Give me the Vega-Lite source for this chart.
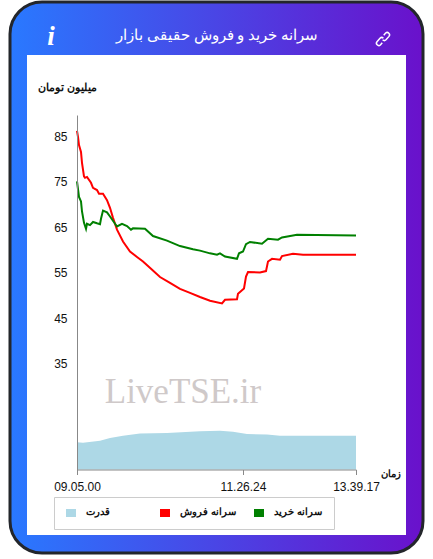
{"$schema":"https://vega.github.io/schema/vega-lite/v6.json","width":413,"height":551,"autosize":{"type":"none"},"padding":{"left":10,"top":2,"right":10,"bottom":6},"background":"white","config":{"view":{"fill":{"gradient":"linear","x1":0,"y1":0,"x2":1,"y2":0,"stops":[{"offset":0,"color":"#2979ff"},{"offset":1,"color":"#6a11cb"}]},"stroke":"#23262b","strokeWidth":3,"cornerRadius":32},"font":"DejaVu Sans"},"data":{"values":[
{"n":0,"series":"سرانه فروش","value":86.2},{"n":1,"series":"سرانه فروش","value":84.9},{"n":2,"series":"سرانه فروش","value":83.1},{"n":4,"series":"سرانه فروش","value":81.6},{"n":5,"series":"سرانه فروش","value":79.2},{"n":7,"series":"سرانه فروش","value":76.2},{"n":8,"series":"سرانه فروش","value":75.9},{"n":10,"series":"سرانه فروش","value":76.1},{"n":14,"series":"سرانه فروش","value":74.8},{"n":16,"series":"سرانه فروش","value":73.7},{"n":20,"series":"سرانه فروش","value":73.2},{"n":22,"series":"سرانه فروش","value":72.4},{"n":26,"series":"سرانه فروش","value":72.4},{"n":30,"series":"سرانه فروش","value":71.0},{"n":33,"series":"سرانه فروش","value":69.3},{"n":36,"series":"سرانه فروش","value":67.1},{"n":40,"series":"سرانه فروش","value":64.5},{"n":46,"series":"سرانه فروش","value":61.9},{"n":53,"series":"سرانه فروش","value":59.7},{"n":60,"series":"سرانه فروش","value":58.5},{"n":66,"series":"سرانه فروش","value":57.5},{"n":74,"series":"سرانه فروش","value":55.9},{"n":83,"series":"سرانه فروش","value":54.1},{"n":93,"series":"سرانه فروش","value":52.8},{"n":103,"series":"سرانه فروش","value":51.5},{"n":113,"series":"سرانه فروش","value":50.6},{"n":123,"series":"سرانه فروش","value":49.7},{"n":133,"series":"سرانه فروش","value":48.9},{"n":145,"series":"سرانه فروش","value":48.3},{"n":148,"series":"سرانه فروش","value":49.1},{"n":160,"series":"سرانه فروش","value":49.2},{"n":161,"series":"سرانه فروش","value":50.4},{"n":167,"series":"سرانه فروش","value":51.6},{"n":169,"series":"سرانه فروش","value":54.2},{"n":171,"series":"سرانه فروش","value":55.2},{"n":183,"series":"سرانه فروش","value":55.1},{"n":189,"series":"سرانه فروش","value":55.4},{"n":191,"series":"سرانه فروش","value":57.5},{"n":195,"series":"سرانه فروش","value":58.1},{"n":203,"series":"سرانه فروش","value":57.9},{"n":205,"series":"سرانه فروش","value":58.7},{"n":216,"series":"سرانه فروش","value":59.2},{"n":226,"series":"سرانه فروش","value":59.0},{"n":279,"series":"سرانه فروش","value":59.0},
{"n":0,"series":"سرانه خرید","value":75.1},{"n":2,"series":"سرانه خرید","value":71.7},{"n":4,"series":"سرانه خرید","value":70.7},{"n":5,"series":"سرانه خرید","value":68.5},{"n":7,"series":"سرانه خرید","value":66.0},{"n":9,"series":"سرانه خرید","value":64.7},{"n":10,"series":"سرانه خرید","value":65.8},{"n":13,"series":"سرانه خرید","value":65.5},{"n":16,"series":"سرانه خرید","value":66.2},{"n":20,"series":"سرانه خرید","value":65.9},{"n":23,"series":"سرانه خرید","value":65.7},{"n":24,"series":"سرانه خرید","value":66.9},{"n":26,"series":"سرانه خرید","value":68.7},{"n":30,"series":"سرانه خرید","value":68.3},{"n":33,"series":"سرانه خرید","value":67.4},{"n":40,"series":"سرانه خرید","value":65.2},{"n":45,"series":"سرانه خرید","value":65.8},{"n":50,"series":"سرانه خرید","value":65.3},{"n":54,"series":"سرانه خرید","value":64.5},{"n":56,"series":"سرانه خرید","value":64.8},{"n":68,"series":"سرانه خرید","value":64.7},{"n":76,"series":"سرانه خرید","value":63.1},{"n":90,"series":"سرانه خرید","value":62.1},{"n":103,"series":"سرانه خرید","value":60.9},{"n":116,"series":"سرانه خرید","value":60.2},{"n":123,"series":"سرانه خرید","value":59.9},{"n":133,"series":"سرانه خرید","value":59.3},{"n":140,"series":"سرانه خرید","value":59.0},{"n":143,"series":"سرانه خرید","value":59.3},{"n":148,"series":"سرانه خرید","value":58.6},{"n":160,"series":"سرانه خرید","value":58.1},{"n":162,"series":"سرانه خرید","value":59.3},{"n":166,"series":"سرانه خرید","value":59.7},{"n":169,"series":"سرانه خرید","value":61.3},{"n":173,"series":"سرانه خرید","value":61.8},{"n":185,"series":"سرانه خرید","value":61.4},{"n":191,"series":"سرانه خرید","value":62.5},{"n":201,"series":"سرانه خرید","value":62.3},{"n":205,"series":"سرانه خرید","value":62.8},{"n":220,"series":"سرانه خرید","value":63.4},{"n":279,"series":"سرانه خرید","value":63.2},
{"n":0,"series":"قدرت","value":17.8},{"n":6,"series":"قدرت","value":17.7},{"n":23,"series":"قدرت","value":18.1},{"n":33,"series":"قدرت","value":18.7},{"n":46,"series":"قدرت","value":19.2},{"n":63,"series":"قدرت","value":19.7},{"n":90,"series":"قدرت","value":19.8},{"n":123,"series":"قدرت","value":20.2},{"n":143,"series":"قدرت","value":20.3},{"n":156,"series":"قدرت","value":20.1},{"n":170,"series":"قدرت","value":19.6},{"n":190,"series":"قدرت","value":19.5},{"n":203,"series":"قدرت","value":19.2},{"n":279,"series":"قدرت","value":19.2}
]},
"layer":[
{"data":{"values":[{}]},"mark":{"type":"rect","fill":"white"},"encoding":{
"x":{"datum":-50,"type":"quantitative","scale":{"domain":[0,279],"range":[67,346],"nice":false,"zero":false},"axis":{"title":"زمان","titleX":380,"titleY":-1,"titleFont":"Noto Sans","titleFontSize":10,"titleFontWeight":"bold","titleColor":"#111","titleAlign":"center","values":[0,166,279],"labelExpr":"datum.value==0?'09.05.00':datum.value==166?'11.26.24':'13.39.17'","labelFont":"Liberation Sans","labelFontSize":12,"labelColor":"#111","labelAngle":0,"labelPadding":7,"labelOverlap":false,"labelBound":false,"labelFlush":false,"grid":false,"domainColor":"#888","tickColor":"#888","tickSize":5,"offset":-83.5,"zindex":1}},
"x2":{"datum":329},
"y":{"datum":102.9,"type":"quantitative","scale":{"domain":[11.8,89.7],"range":[467.5,113],"nice":false,"zero":false},"axis":{"title":"میلیون تومان","titleAngle":0,"titleX":-10,"titleY":85.5,"titleFont":"Noto Sans","titleFontSize":10.5,"titleFontWeight":"bold","titleColor":"#111","titleAlign":"center","titleBaseline":"middle","values":[35,45,55,65,75,85],"labelFont":"Liberation Sans","labelFontSize":12,"labelColor":"#111","labelPadding":10,"grid":false,"ticks":false,"domainColor":"#888","offset":-67,"zindex":1}},
"y2":{"datum":-2.6}}},
{"transform":[{"filter":"datum.series=='قدرت'"}],"mark":{"type":"area","opacity":1},"encoding":{"x":{"field":"n","type":"quantitative"},"y":{"field":"value","type":"quantitative","stack":null},"y2":{"datum":11.8},"color":{"field":"series","type":"nominal","scale":{"domain":["قدرت","سرانه فروش","سرانه خرید"],"range":["#add8e6","#ff0000","#008000"]},"legend":{"title":null,"orient":"none","legendX":44,"legendY":495,"direction":"horizontal","columns":3,"gridAlign":"all","columnPadding":18,"padding":12,"clipHeight":6,"strokeColor":"#ccc","symbolType":"square","symbolSize":100,"symbolStrokeWidth":0,"symbolOpacity":1,"labelFont":"Noto Sans","labelFontSize":10,"labelFontWeight":"bold","labelColor":"#111","labelOffset":10,"encode":{"symbols":{"update":{"fill":{"scale":"color","field":"value"},"stroke":{"value":"transparent"}}}}}}}},
{"data":{"values":[{}]},"mark":{"type":"text","font":"Liberation Serif","fontSize":35,"color":"#cfc9c9","align":"center","baseline":"middle"},"encoding":{"x":{"datum":106,"type":"quantitative"},"y":{"datum":28.8,"type":"quantitative"},"text":{"value":"LiveTSE.ir"}}},
{"transform":[{"filter":"datum.series!='قدرت'"}],"mark":{"type":"line","strokeWidth":2},"encoding":{"x":{"field":"n","type":"quantitative"},"y":{"field":"value","type":"quantitative"},"color":{"field":"series","type":"nominal"}}},
{"data":{"values":[{}]},"mark":{"type":"text","font":"Noto Sans","fontSize":15.3,"color":"white","align":"center","baseline":"middle"},"encoding":{"x":{"datum":140,"type":"quantitative"},"y":{"datum":107.3,"type":"quantitative"},"text":{"value":"سرانه خرید و فروش حقیقی بازار"}}},
{"data":{"values":[{}]},"mark":{"type":"text","font":"Liberation Serif","fontSize":27,"fontWeight":"bold","fontStyle":"italic","color":"white","align":"center","baseline":"middle"},"encoding":{"x":{"datum":-26,"type":"quantitative"},"y":{"datum":106.9,"type":"quantitative"},"text":{"value":"i"}}},
{"data":{"values":[{}]},"mark":{"type":"point","filled":false,"stroke":"white","strokeWidth":1.5,"opacity":1,"size":225,"shape":"M0.1,-0.5 L0.35,-0.8 A0.32,0.32 0 0 1 0.8,-0.35 L0.4,0.1 A0.32,0.32 0 0 1 -0.05,0.1 M-0.1,0.5 L-0.35,0.8 A0.32,0.32 0 0 1 -0.8,0.35 L-0.4,-0.1 A0.32,0.32 0 0 1 0.05,-0.1"},"encoding":{"x":{"datum":306,"type":"quantitative"},"y":{"datum":106.4,"type":"quantitative"}}}
]}
